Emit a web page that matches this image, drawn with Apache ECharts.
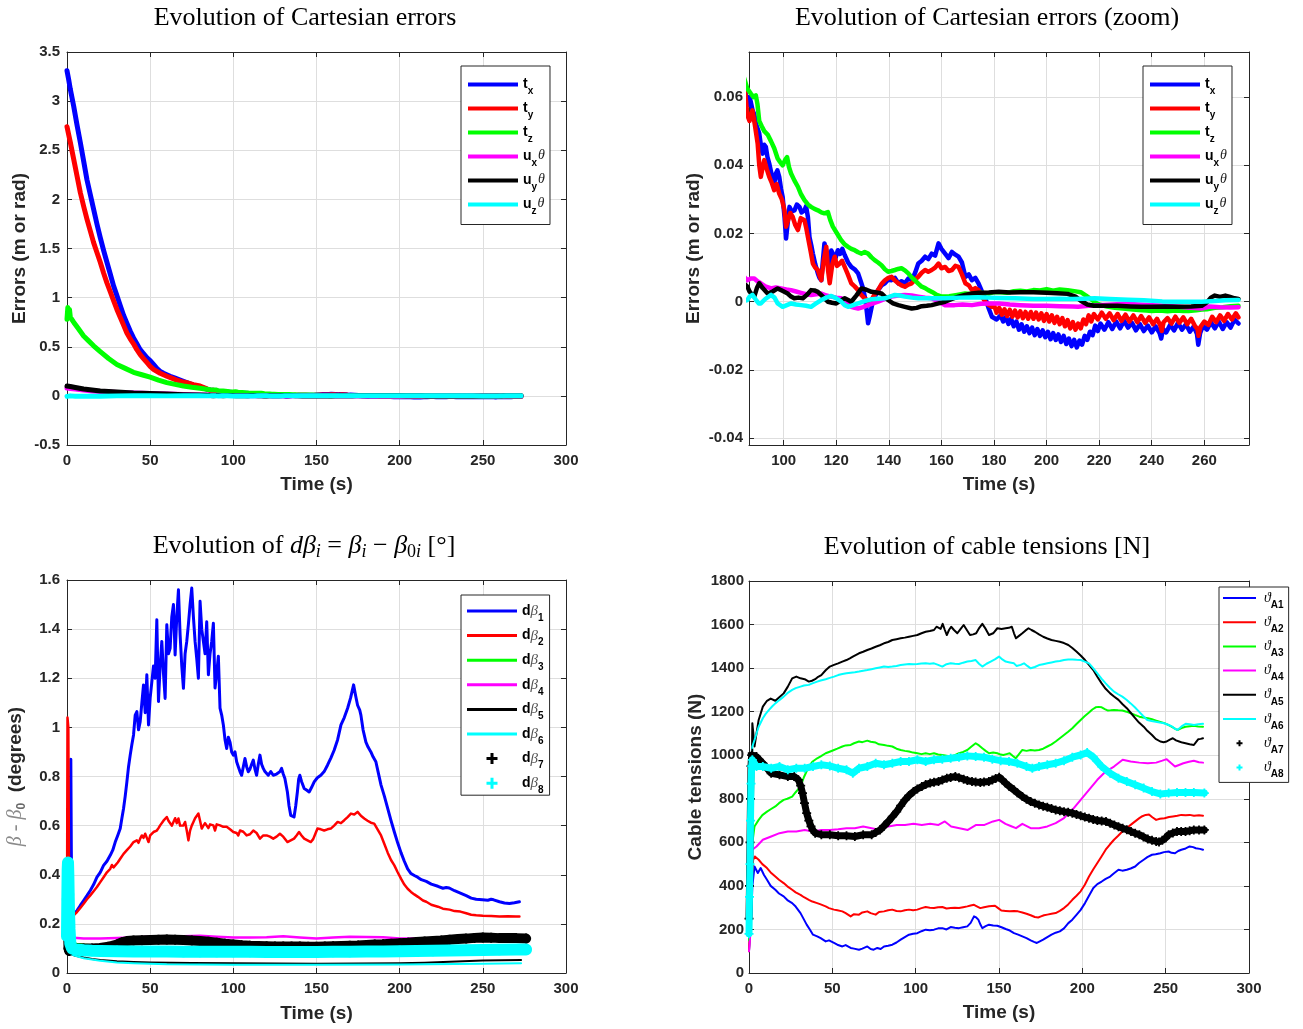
<!DOCTYPE html>
<html>
<head>
<meta charset="utf-8">
<script src="https://cdn.jsdelivr.net/npm/echarts@6/dist/echarts.min.js"></script>
<style>
html, body { margin: 0; padding: 0; background: #fff; }
#chart { width: 1303px; height: 1029px; }
</style>
</head>
<body>
<div id="chart"></div>
<script>
// ---------- data: Cartesian errors (m or rad) vs time (s) ----------
const errTx = [[0,3.31],[1,3.22],[2,3.12],[4,2.95],[6,2.76],[8,2.58],[10,2.39],[12,2.2],[14,2.05],[16,1.9],[18,1.75],[20,1.61],[22,1.48],[24,1.36],[26,1.24],[28,1.12],[30,1.02],[32,0.92],[34,0.82],[36,0.74],[38,0.66],[40,0.59],[42,0.53],[44,0.47],[46,0.43],[48,0.39],[50,0.36],[52,0.32],[54,0.28],[56,0.25],[58,0.23],[60,0.215],[62,0.2],[65,0.18],[68,0.16],[72,0.135],[76,0.11],[80,0.09],[83,0.075],
[86.2,0.0576],[87,0.06],[87.5,0.0585],[88.2,0.056],[88.8,0.055],[89.5,0.052],[90.2,0.0505],[90.7,0.0493],[91.4,0.0455],[92,0.0434],[92.6,0.046],[93.2,0.0454],[93.8,0.0425],[94.5,0.0405],[95.2,0.038],[95.8,0.036],[96.4,0.0346],[97,0.0375],[97.6,0.0385],[98.3,0.0366],[99,0.033],[99.6,0.0307],[100.3,0.025],[100.9,0.0185],[101.5,0.023],[102.2,0.0278],[103,0.0265],[104.1,0.0268],[105,0.0285],[106,0.0278],[106.8,0.0262],[107.9,0.0268],[108.5,0.028],[109.2,0.0249],[109.8,0.019],[110.5,0.0165],[111.1,0.0141],[112,0.011],[113,0.0083],[113.6,0.007],[114.3,0.0063],[114.9,0.012],[115.5,0.0171],[116.2,0.015],[117.5,0.0112],[118.1,0.015],[118.7,0.0141],[119.6,0.0125],[120.6,0.0151],[121.5,0.014],[122.3,0.0155],[123.2,0.0137],[124.5,0.0115],[125.7,0.0102],[127,0.0095],[128.3,0.0083],[129.3,0.006],[130.2,0.0039],[131.2,0],[132.1,-0.0063],[132.8,-0.004],[134,0.0005],[135,0.002],[135.9,0.0034],[137.2,0.0048],[138.5,0.0054],[139.8,0.0065],[141,0.0063],[142.3,0.007],[143.6,0.0054],[144.8,0.006],[146.1,0.0054],[147.4,0.0068],[148.7,0.0063],[150,0.0085],[151.2,0.0112],[152.5,0.012],[153.8,0.0132],[155,0.0125],[156.3,0.0141],[157.6,0.0135],[158.9,0.0171],[160,0.0155],[161.4,0.0141],[162.7,0.0128],[164,0.0146],[165.3,0.0138],[166.5,0.0132],[167.8,0.0115],[169.1,0.0073],[170.4,0.008],[171.6,0.0063],[172.9,0.007],[174.1,0.0054],[175.4,0.003],[176.7,0.001],[178,-0.002],[179.2,-0.0044],[181,-0.0052],
[182.5,-0.004],[183.5,-0.0058],[184.5,-0.0045],[185.5,-0.0065],[186.5,-0.005],[187.5,-0.0072],[188.5,-0.0058],[189.5,-0.0082],[190.5,-0.0066],[191.5,-0.0088],[192.5,-0.0072],[193.5,-0.0092],[194.5,-0.0076],[195.5,-0.0098],[196.5,-0.008],[197.5,-0.01],[198.5,-0.0084],[199.5,-0.0104],[200.5,-0.0088],[201.5,-0.011],[202.5,-0.0092],[203.5,-0.0112],[204.5,-0.0096],[205.5,-0.0118],[206.5,-0.01],[207.5,-0.0124],[208.5,-0.0108],[209.5,-0.013],[210.5,-0.0112],[211.5,-0.0134],[212.5,-0.0114],[213.5,-0.0126],[214.5,-0.01],[215.5,-0.0112],[216.5,-0.0088],[217.5,-0.0098],[218.5,-0.007],[219.5,-0.0086],[220.5,-0.0064],[222,-0.0082],[223.5,-0.006],[225,-0.008],[226.5,-0.0058],[228,-0.0078],[229.5,-0.0056],[231,-0.0076],[232.5,-0.0062],[234,-0.0084],[235.5,-0.0066],[237,-0.0086],[238.5,-0.007],[240,-0.009],[241.5,-0.0072],[243,-0.0092],[243.6,-0.0108],[244.3,-0.008],[245.5,-0.009],[247,-0.0068],[248.5,-0.0084],[250,-0.0062],[251.5,-0.0082],[253,-0.0066],[254.5,-0.0088],[256,-0.0072],[257.2,-0.0094],[257.7,-0.0126],[258.4,-0.0092],[259.5,-0.007],[261,-0.0082],[262.5,-0.006],[264,-0.0078],[265.5,-0.0058],[267,-0.008],[268.5,-0.006],[270,-0.0076],[271.5,-0.0052],[273,-0.0064]];

const errTy = [[0,2.74],[2,2.58],[4,2.41],[6,2.24],[8,2.07],[10,1.93],[12,1.8],[14,1.68],[16,1.56],[18,1.46],[20,1.36],[22,1.25],[24,1.15],[26,1.06],[28,0.97],[30,0.88],[32,0.8],[34,0.72],[36,0.64],[38,0.58],[40,0.53],[42,0.47],[44,0.42],[46,0.38],[48,0.34],[50,0.3],[52,0.27],[54,0.25],[56,0.23],[58,0.215],[60,0.2],[63,0.18],[66,0.16],[69,0.145],[72,0.135],[76,0.115],[80,0.1],[83,0.08],
[86.2,0.0546],[87,0.053],[88.1,0.0561],[89,0.052],[90.1,0.0463],[90.7,0.04],[91.3,0.0366],[92,0.0395],[92.6,0.0415],[93.5,0.039],[94.5,0.0366],[95.4,0.035],[96.4,0.0327],[97.3,0.0345],[98.3,0.0317],[99.3,0.03],[100.3,0.0268],[100.9,0.022],[101.5,0.022],[102.5,0.026],[103.4,0.0249],[104.4,0.0225],[105.4,0.021],[106.5,0.0245],[107.9,0.0239],[108.6,0.0215],[109.2,0.019],[110.2,0.015],[111.1,0.0112],[112,0.01],[113,0.0093],[113.7,0.0075],[114.3,0.0063],[115.2,0.012],[116.2,0.0161],[116.9,0.009],[117.5,0.0054],[118.5,0.011],[119.4,0.0132],[120.3,0.0105],[121.3,0.0112],[122.2,0.012],[123.2,0.0102],[124.4,0.008],[125.7,0.0054],[127,0.0045],[128.3,0.0034],[129.5,0.002],[130.8,0.001],[131.8,0.0005],[132.8,-0.0005],[134.3,0.0018],[135.9,0.0034],[137.2,0.0052],[138.5,0.0063],[139.8,0.007],[141,0.0073],[142.3,0.0062],[143.6,0.0054],[144.8,0.0048],[146.1,0.0044],[147.4,0.005],[148.7,0.0054],[150,0.0065],[151.2,0.0073],[152.5,0.0085],[153.8,0.0093],[155,0.0088],[156.3,0.0093],[157.6,0.01],[158.9,0.0112],[160,0.0098],[161.4,0.0102],[162.7,0.009],[164,0.0093],[165.3,0.0105],[166.5,0.0102],[167.8,0.008],[169.1,0.0054],[170.4,0.0048],[171.6,0.0034],[172.9,0.004],[174.1,0.0034],[175.4,0.0015],[176.7,0],[178,-0.001],[179.2,-0.0015],
[180,-0.001],[181,-0.0032],[182,-0.0018],[183,-0.0038],[184,-0.0022],[185,-0.0042],[186,-0.0024],[187,-0.0044],[188,-0.0026],[189,-0.0046],[190,-0.0028],[191,-0.0048],[192,-0.003],[193,-0.005],[194,-0.003],[195,-0.005],[196,-0.0032],[197,-0.0052],[198,-0.0034],[199,-0.0056],[200,-0.0036],[201,-0.0058],[202,-0.004],[203,-0.0062],[204,-0.0044],[205,-0.0066],[206,-0.0048],[207,-0.0072],[208,-0.0054],[209,-0.0078],[210,-0.006],[211,-0.0082],[212,-0.0064],[213,-0.0078],[214,-0.0052],[215,-0.0066],[216,-0.004],[217,-0.0058],[218,-0.0036],[219.5,-0.0052],[221,-0.0032],[222.5,-0.005],[224,-0.0034],[225.5,-0.0054],[227,-0.0036],[228.5,-0.0056],[230,-0.0038],[231.5,-0.0058],[233,-0.004],[234.5,-0.006],[236,-0.0042],[237.5,-0.0062],[239,-0.0046],[240.5,-0.0066],[242,-0.005],[243.3,-0.007],[243.8,-0.0086],[244.5,-0.006],[246,-0.0048],[247.5,-0.0064],[249,-0.0044],[250.5,-0.0062],[252,-0.0046],[253.5,-0.0066],[255,-0.005],[256.5,-0.0072],[257.4,-0.008],[257.8,-0.01],[258.5,-0.0074],[260,-0.0058],[261.5,-0.0068],[263,-0.0044],[264.5,-0.006],[266,-0.004],[267.5,-0.0056],[269,-0.0036],[270.5,-0.0052],[272,-0.0034],[273,-0.0046]];

const errTz = [[0,0.78],[0.5,0.9],[1,0.82],[1.5,0.88],[2,0.8],[4,0.75],[7,0.68],[10,0.61],[13,0.56],[16,0.51],[20,0.45],[25,0.38],[30,0.32],[35,0.28],[40,0.24],[45,0.215],[50,0.19],[55,0.16],[60,0.135],[65,0.117],[70,0.1],[75,0.088],[80,0.078],[84,0.068],
[86.2,0.0624],[87.5,0.061],[88.5,0.06],[89.4,0.0605],[90,0.058],[90.7,0.053],[91.6,0.0515],[92.6,0.05],[93.9,0.049],[95.2,0.047],[96.4,0.045],[97.7,0.042],[98.6,0.041],[99.6,0.04],[100.5,0.0415],[101.3,0.0424],[102,0.0395],[102.8,0.0376],[104.1,0.0355],[105.4,0.0337],[106.6,0.0315],[107.9,0.0298],[109.2,0.0285],[110.4,0.0278],[111.7,0.0272],[113,0.0268],[114.3,0.0262],[115.5,0.0259],[116.8,0.0263],[117.7,0.024],[118.7,0.022],[120.3,0.02],[121.9,0.018],[123.2,0.0168],[124.5,0.0161],[125.7,0.0155],[127,0.0151],[128.3,0.0145],[129.6,0.0141],[130.8,0.0146],[132.1,0.0141],[133.4,0.013],[134.6,0.0122],[135.9,0.0115],[137.2,0.0107],[138.5,0.0095],[139.7,0.0088],[141,0.009],[142.3,0.0093],[143.5,0.0096],[144.8,0.0098],[146.1,0.0092],[147.4,0.0083],[148.6,0.0072],[149.9,0.0063],[151.2,0.0053],[152.5,0.0044],[153.8,0.004],[155,0.0034],[156.6,0.0028],[158.2,0.002],[160.1,0.0015],[163,0.0016],[166,0.002],[169,0.0024],[172,0.0022],[175,0.0026],[178,0.0024],[180,0.0028],[182.5,0.0028],[185,0.0026],[187.5,0.0031],[190,0.0032],[192.5,0.003],[195,0.0034],[197.5,0.0033],[200,0.0037],[202.5,0.0032],[205,0.0036],[208,0.0034],[210.5,0.0031],[213,0.0028],[215,0.0018],[216.8,0.0008],[218.5,-0.0002],[220,-0.0008],[223,-0.0014],[226,-0.0018],[229,-0.002],[232,-0.0022],[235,-0.0024],[238,-0.0026],[240,-0.0027],[243,-0.0026],[246,-0.0028],[249,-0.0026],[252,-0.0027],[254,-0.0027],[257,-0.0025],[259,-0.0023],[261,-0.0022],[264,-0.0018],[267,-0.0016],[270,-0.0013],[273,-0.0012]];

const errUx = [[0,0.08],[2,0.075],[5,0.07],[10,0.06],[15,0.05],[20,0.045],[30,0.035],[40,0.03],[50,0.025],[60,0.02],[70,0.015],[80,0.01],[84,0.008],
[86.2,0.0063],[87.5,0.0068],[88.8,0.0068],[90,0.006],[91.3,0.0054],[93,0.0045],[95.2,0.0039],[97,0.0042],[99,0.0039],[101,0.0036],[102.8,0.0034],[104.7,0.003],[106.6,0.0026],[108.5,0.0022],[110.4,0.002],[112.3,0.0022],[114.3,0.0024],[116.2,0.0018],[118.1,0.0015],[120,0.0012],[121.9,0.001],[123.8,-0.0005],[125.7,-0.0015],[127,-0.0018],[128.3,-0.002],[130.2,-0.0016],[132.1,-0.001],[134,-0.0005],[135.9,0],[138.5,0.0008],[141,0.0015],[143.6,0.0018],[146.1,0.002],[148.7,0.0018],[151.2,0.0015],[153.8,0.0012],[156.3,0.001],[158.9,0],[161.4,-0.001],[165,-0.001],[168,-0.0008],[171.6,-0.001],[175,-0.0006],[178,-0.0005],[181.8,-0.0005],[186,-0.0008],[190,-0.001],[195,-0.0012],[200,-0.0012],[205,-0.0013],[210,-0.0014],[212,-0.0015],[216,-0.0012],[220,-0.001],[225,-0.0008],[230,-0.0006],[235,-0.0008],[240,-0.001],[245,-0.0012],[250,-0.0015],[255,-0.0018],[259,-0.002],[262,-0.0014],[266,-0.0016],[270,-0.0017],[273,-0.0016]];

const errUy = [[0,0.1],[1,0.11],[2,0.095],[5,0.085],[10,0.07],[15,0.06],[20,0.05],[25,0.045],[30,0.04],[40,0.03],[50,0.025],[60,0.018],[70,0.012],[80,0.008],[84,0.006],
[86.2,0.0044],[87,0.003],[88,0.002],[88.8,0.0015],[89.8,0.004],[90.7,0.0054],[92,0.004],[93.9,0.0024],[95.8,0.003],[97.7,0.0039],[99.5,0.0032],[101.5,0.0024],[102.8,0.0015],[104,0.001],[105.6,0.0012],[107.3,0.001],[108.8,0.002],[110.4,0.0034],[111.7,0.0033],[113,0.0029],[114.9,0.0015],[116.8,0],[118.4,-0.0003],[120,-0.0005],[121.6,0.0003],[123.2,0.001],[124.5,0.0005],[125.7,0],[127.6,0.0018],[129.6,0.0039],[131.5,0.0035],[133.4,0.0029],[135.3,0.0027],[137.2,0.0024],[138.5,0.0015],[139.7,0.0005],[141.6,-0.0005],[143.6,-0.001],[146.1,-0.0015],[148.7,-0.002],[150.6,-0.0018],[152.5,-0.0013],[154.4,-0.0012],[156.3,-0.001],[158.9,-0.0005],[161.4,0],[164,0.0008],[166.5,0.0015],[169,0.002],[171.6,0.0024],[174.1,0.0026],[178,0.0027],[181.8,0.0029],[186,0.0027],[190,0.0028],[195,0.0028],[200,0.0026],[204,0.0025],[208,0.0023],[211,0.0015],[213,0.0003],[215.5,-0.0008],[218,-0.0012],[222,-0.0012],[227,-0.0012],[232,-0.0014],[236,-0.0015],[240,-0.0015],[245,-0.0014],[250,-0.0015],[255,-0.0014],[259,-0.0012],[261,-0.0002],[262.5,0.0012],[264,0.0018],[266,0.0014],[268,0.0018],[269.5,0.0015],[271.5,0.001],[273,0.0008]];

const errUz = [[0,-0.005],[2,0],[5,-0.004],[10,-0.005],[20,-0.003],[30,0],[40,0.002],[50,0.001],[60,0],[70,0.002],[80,0.001],[84,0],
[86.2,0.0005],[87,0.0015],[88.1,0.002],[89.5,0.0005],[90.5,-0.0005],[91.3,-0.0005],[93,0.0008],[95.2,0.002],[96.5,0.0012],[97.7,-0.0005],[99.6,-0.0015],[101.2,-0.001],[102.8,-0.0005],[104.7,-0.0008],[106.6,-0.001],[108.5,-0.0012],[110.4,-0.0015],[112.3,-0.0005],[114.3,0.0005],[116.2,0.0012],[118.1,0.0017],[120,0.001],[121.9,0],[123.2,-0.001],[124.5,-0.0015],[126.4,-0.001],[128.3,-0.0005],[130.8,0.0002],[133.4,0.0007],[135.9,0.0009],[138.5,0.001],[140.4,0.0015],[142.3,0.002],[144.2,0.0018],[146.1,0.0015],[148.7,0.0012],[151.2,0.001],[156,0.001],[161.4,0.001],[167,0.0012],[174.1,0.0013],[178,0.0012],[182.5,0.0011],[188,0.001],[195,0.0008],[200,0.0008],[205,0.0009],[210,0.0008],[214,0.0009],[218.3,0.001],[224,0.0008],[231,0.0006],[237,0.0004],[244,0.0001],[250,0],[255,0],[259,0],[264,0.0002],[268,0.0004],[273,0.0005]];

// ---------- data: dβ_i = β_i − β_0i (degrees) vs time (s) ----------
const dBeta1 = [[0,0.2],[1.6,0.24],[2,0.6],[2.3,0.87],[2.6,0.5],[3,0.23],[4,0.235],[6,0.254],[8,0.275],[10,0.295],[12,0.315],[14,0.336],[16,0.36],[18,0.39],[20,0.41],[22,0.438],[24,0.455],[26,0.479],[27.5,0.5],[29,0.533],[30.5,0.56],[32,0.588],[33,0.63],[34,0.67],[35,0.72],[36,0.778],[37,0.84],[38,0.887],[39,0.93],[40,0.969],[41,1.05],[42,1.064],[43,0.99],[44,1.023],[45,1.1],[46,1.173],[47,1.06],[48,1.214],[49,1.01],[50,1.12],[51,1.118],[52,1.25],[53,1.2],[54,1.438],[55,1.105],[56,1.25],[57,1.35],[58,1.22],[59,1.118],[60,1.418],[61,1.3],[62,1.322],[63,1.45],[64,1.5],[65,1.295],[66,1.45],[67,1.56],[68,1.377],[69,1.25],[70,1.159],[71,1.3],[72,1.35],[73,1.42],[74,1.5],[75,1.567],[76,1.45],[77,1.35],[78,1.28],[79,1.2],[80,1.513],[81,1.4],[82,1.35],[83,1.3],[84,1.43],[85,1.214],[86,1.3],[87,1.35],[88,1.424],[89,1.16],[90,1.22],[91,1.29],[92,1.078],[93,1.05],[94,1.01],[95,0.95],[96,0.914],[97,0.96],[98,0.94],[99,0.9],[100,0.887],[101,0.9],[102,0.86],[103,0.84],[104,0.82],[105,0.805],[106,0.84],[107,0.873],[108,0.84],[109,0.819],[110,0.83],[111,0.85],[112,0.867],[113,0.83],[114,0.805],[115,0.85],[116,0.887],[117,0.85],[118,0.833],[119,0.82],[121,0.805],[122.5,0.82],[124,0.805],[126,0.81],[128,0.82],[129,0.833],[130,0.81],[131,0.792],[132.5,0.737],[133.5,0.68],[134.5,0.642],[135.5,0.635],[136.5,0.635],[137.5,0.68],[138.5,0.737],[139.3,0.79],[140,0.805],[141,0.78],[142.6,0.751],[144,0.745],[145.6,0.737],[147,0.755],[148.6,0.778],[150.5,0.795],[152.6,0.805],[154.6,0.82],[156.6,0.846],[158.6,0.875],[160.6,0.907],[162.7,0.95],[164.7,1.01],[166.7,1.04],[168.7,1.078],[170.5,1.12],[172.3,1.173],[173.5,1.13],[174.7,1.09],[176,1.07],[176.7,1.05],[178,0.99],[179.7,0.94],[181,0.92],[182.7,0.9],[184,0.88],[185.7,0.86],[187,0.82],[188.8,0.765],[190.8,0.72],[192.8,0.67],[194.8,0.62],[196.8,0.574],[198.8,0.53],[200.8,0.49],[202.8,0.455],[204.8,0.424],[206.8,0.405],[208.8,0.397],[210.8,0.39],[213,0.38],[216,0.373],[219,0.362],[223,0.353],[226,0.345],[228,0.348],[229.8,0.346],[233,0.335],[236.5,0.325],[240,0.315],[243,0.305],[246,0.3],[249.8,0.298],[253,0.296],[255,0.3],[256.5,0.298],[260,0.29],[263,0.285],[266,0.283],[269,0.286],[272,0.29]];

const dBeta2 = [[0,0.2],[0.3,1.04],[0.8,1.0],[1.2,0.4],[1.6,0.22],[2,0.22],[4,0.235],[6,0.248],[8,0.265],[10,0.282],[12,0.3],[14,0.316],[16,0.333],[18,0.35],[20,0.37],[22,0.39],[24,0.41],[26,0.424],[27,0.44],[28,0.43],[29,0.438],[30.5,0.45],[32,0.465],[34,0.485],[36,0.5],[38,0.515],[40,0.533],[42,0.54],[43,0.53],[44,0.547],[45,0.56],[46,0.55],[47,0.567],[48,0.55],[49,0.533],[50,0.56],[52,0.574],[54,0.58],[55,0.59],[56,0.601],[58,0.62],[60,0.635],[61,0.62],[62,0.625],[63,0.6],[64,0.615],[65,0.63],[66,0.61],[67,0.629],[68,0.6],[70,0.601],[71,0.615],[72,0.58],[73,0.54],[74,0.58],[75,0.6],[76,0.615],[77,0.63],[78,0.625],[79,0.649],[80,0.62],[81,0.588],[82,0.6],[83,0.61],[84,0.608],[85,0.59],[86,0.605],[88,0.601],[89,0.58],[90,0.605],[92,0.601],[94,0.595],[96,0.595],[98,0.585],[100,0.574],[102,0.57],[103,0.56],[104,0.58],[106,0.575],[108,0.56],[110,0.565],[112,0.58],[114,0.57],[116,0.547],[118,0.56],[120,0.56],[122,0.555],[124,0.547],[126,0.555],[128,0.567],[130,0.555],[132.5,0.533],[134.5,0.54],[136.5,0.547],[138,0.56],[139.5,0.574],[141,0.56],[142.6,0.547],[144.6,0.54],[146.6,0.533],[148,0.545],[149.5,0.57],[150.6,0.588],[152.6,0.585],[154.6,0.58],[156.6,0.585],[158.6,0.588],[160.6,0.6],[162.7,0.615],[164.7,0.61],[166.7,0.622],[168.7,0.635],[170.7,0.649],[172.7,0.645],[174.7,0.656],[176.7,0.64],[178.7,0.629],[180.7,0.62],[182.7,0.612],[184.7,0.608],[186.7,0.585],[188.8,0.56],[190.8,0.525],[192.8,0.49],[194.8,0.46],[196.8,0.438],[198.8,0.41],[200.8,0.384],[202.8,0.36],[204.8,0.343],[206.8,0.33],[208.8,0.32],[211,0.31],[214,0.295],[216,0.29],[219,0.278],[223,0.27],[226,0.262],[230,0.258],[233,0.252],[236.5,0.25],[240,0.243],[243,0.237],[246,0.235],[250,0.233],[255,0.232],[260,0.23],[265,0.231],[270,0.23],[272,0.23]];

const dBeta3 = [[0,0.14],[1,0.13],[2,0.125],[4,0.12],[6,0.118],[10,0.115],[20,0.11],[40,0.105],[60,0.1],[100,0.098],[150,0.095],[200,0.09],[230,0.085],[250,0.082],[273,0.08]];
const dBeta4 = [[0,0.18],[1,0.16],[2,0.145],[3,0.14],[10,0.14],[20,0.14],[30,0.142],[40,0.145],[50,0.148],[60,0.15],[70,0.15],[80,0.152],[90,0.148],[100,0.145],[110,0.145],[120,0.146],[130,0.15],[140,0.145],[150,0.14],[160,0.145],[170,0.148],[180,0.147],[190,0.146],[200,0.14],[220,0.14],[240,0.14],[273,0.14]];
const dBeta5 = [[0,0.24],[0.5,0.2],[1,0.14],[2,0.09],[3,0.075],[5,0.07],[10,0.063],[15,0.057],[20,0.053],[30,0.048],[40,0.045],[50,0.043],[75,0.041],[100,0.04],[150,0.038],[200,0.04],[215,0.042],[230,0.046],[250,0.051],[273,0.053]];
const dBeta6 = [[0,0.2],[1,0.12],[2,0.09],[3,0.075],[5,0.07],[10,0.06],[20,0.05],[30,0.043],[40,0.04],[60,0.036],[100,0.034],[150,0.034],[200,0.035],[250,0.038],[273,0.04]];
const dBeta7 = [[0,0.22],[0.3,0.24],[0.6,0.2],[0.9,0.1],[1.3,0.09],[2,0.1],[5,0.1],[10,0.1],[15,0.1],[20,0.102],[25,0.107],[30,0.116],[33,0.125],[36,0.13],[40,0.132],[45,0.133],[50,0.134],[55,0.135],[60,0.136],[65,0.135],[70,0.134],[75,0.132],[80,0.13],[85,0.127],[90,0.123],[95,0.119],[100,0.116],[105,0.113],[110,0.111],[115,0.11],[120,0.109],[125,0.108],[130,0.108],[135,0.108],[140,0.108],[145,0.107],[150,0.107],[155,0.108],[160,0.109],[165,0.11],[170,0.111],[175,0.112],[180,0.114],[185,0.116],[190,0.117],[195,0.119],[200,0.121],[205,0.123],[210,0.126],[215,0.128],[220,0.13],[225,0.132],[230,0.135],[235,0.138],[240,0.14],[245,0.143],[250,0.145],[255,0.144],[260,0.142],[265,0.142],[270,0.142],[276,0.14]];
const dBeta8 = [[0,0.15],[0.2,0.3],[0.4,0.42],[0.6,0.45],[0.8,0.4],[1,0.32],[1.2,0.25],[1.5,0.18],[2,0.12],[3,0.1],[5,0.096],[10,0.093],[15,0.091],[20,0.09],[30,0.089],[40,0.088],[50,0.088],[60,0.088],[70,0.087],[80,0.087],[90,0.087],[100,0.087],[110,0.087],[120,0.086],[130,0.086],[140,0.086],[150,0.086],[160,0.087],[170,0.087],[180,0.088],[190,0.088],[200,0.089],[210,0.09],[220,0.091],[230,0.092],[240,0.093],[250,0.094],[260,0.095],[270,0.096],[276,0.096]];

// ---------- data: cable tensions (N) vs time (s) ----------
const tensA1 = [[0,100],[0.75,107],[1.5,280],[2,398],[3.3,489],[5.3,459],[7,482],[9,450],[10.8,428],[13,400],[15.8,382],[18,365],[20.8,352],[23,335],[25.9,321],[28,305],[30.9,275],[33,245],[34.6,222],[36.5,200],[38.4,176],[40.9,168],[43,160],[46,145],[48,150],[51,138],[53,130],[56,122],[58,128],[61,115],[63,112],[66,107],[68,112],[71,122],[73,110],[74.8,107],[77,115],[79,110],[81,122],[83.5,125],[86,130],[88.5,140],[91,153],[93.5,165],[96,176],[98.5,180],[101,183],[103.5,192],[106,199],[108.5,196],[111,199],[113.5,205],[116,206],[118.5,200],[121,211],[123.5,208],[126,206],[128.5,210],[131,214],[133,230],[135,260],[136.3,255],[137.6,245],[139,220],[140,206],[142,215],[144,222],[146.5,218],[149,217],[151.5,210],[154,202],[156.5,195],[159,183],[161.5,176],[164,168],[166.5,160],[169,150],[171,143],[172.7,138],[174.5,145],[176.5,153],[179,165],[181.5,176],[184,185],[186.5,191],[189,205],[191.6,229],[194,245],[196.6,268],[199,290],[201.6,321],[204,355],[206.6,390],[209,408],[211.6,420],[214,432],[216.7,443],[219,458],[221.7,474],[224,470],[226.7,474],[229,480],[231.7,489],[234,505],[236.8,520],[239,532],[241.8,543],[244,545],[246.8,550],[249,555],[251.8,558],[253.5,552],[255.6,550],[257.5,560],[259.4,566],[262,572],[264.4,581],[266.5,578],[268.1,573],[270.5,570],[272.4,566]];
const tensA2 = [[0,100],[0.8,250],[1.5,420],[2.5,520],[3.5,535],[5.8,520],[8,500],[10.8,482],[13,462],[15.8,443],[18,428],[20.8,413],[23,398],[25.9,382],[28,370],[30.9,359],[33,348],[35.9,336],[38,328],[40.9,321],[43,315],[46,306],[48,298],[51,291],[53,288],[56,283],[58,275],[61,260],[63,270],[66,268],[68,278],[71,283],[73,275],[76,268],[78,280],[81,283],[83.5,288],[86,291],[88.5,285],[91,283],[93.5,288],[96,291],[98.5,288],[101,291],[103.5,298],[106,303],[108.5,300],[111,298],[113.5,302],[116,303],[118.5,296],[121,298],[123.5,300],[126,298],[128.5,302],[131,306],[133,310],[135,313],[137,305],[138.8,298],[141,302],[144,306],[147.6,309],[149.5,298],[151.4,287],[154,285],[156.4,283],[159,285],[161.4,283],[164,278],[166.5,272],[169,265],[171.5,257],[173.5,255],[175.2,260],[177,265],[179,268],[181.5,272],[184,275],[186.5,285],[189,298],[191.5,315],[194,336],[196.5,355],[199,375],[201.5,405],[204,443],[206.5,475],[209,505],[211.5,535],[214,566],[216.5,590],[219,612],[221.5,630],[224,650],[226.5,665],[229,680],[231.5,695],[234.2,711],[236,720],[238,726],[240,728],[242,715],[244.3,703],[246.5,708],[249.3,711],[252,716],[254.3,719],[257,722],[259.4,726],[262,724],[264.4,726],[267,722],[270,724],[272.4,722]];
const tensA3 = [[0,150],[1,400],[2,596],[3.3,673],[5.8,703],[8,725],[10.8,741],[13,752],[15.8,765],[18,780],[20.8,795],[23,800],[25.9,810],[28,830],[30.9,856],[33,900],[35.9,948],[38,970],[40.9,986],[43,995],[46,1009],[48,1015],[51,1024],[53,1030],[56,1040],[58,1045],[61,1047],[63,1055],[66,1063],[68,1060],[71,1067],[73,1062],[76,1058],[78,1050],[81,1047],[83.5,1043],[86,1040],[88.5,1030],[91,1024],[93.5,1020],[96,1017],[98.5,1012],[101,1009],[103.5,1005],[106,1009],[108.5,1005],[111,1009],[113.5,1003],[116,1001],[118.5,998],[121,994],[123.5,1000],[126,1009],[128.5,1015],[131,1024],[133.5,1040],[136,1055],[138,1045],[140,1032],[142,1020],[144,1009],[146.5,1012],[149,1009],[151,1003],[152.6,1001],[154.5,1005],[156.4,1009],[158.5,995],[160,986],[162,1005],[164,1024],[166.5,1020],[169,1024],[171.5,1022],[174,1024],[176.5,1030],[179,1040],[181.5,1050],[184,1063],[186.5,1078],[189,1093],[191.5,1108],[194,1124],[196.5,1143],[199,1162],[201.5,1180],[204,1196],[206,1210],[208,1220],[209.8,1222],[211.6,1220],[213.5,1212],[215.4,1205],[217,1206],[219,1208],[221.5,1206],[224,1205],[226.5,1200],[229,1193],[231.5,1185],[234.2,1177],[236.5,1173],[239.3,1170],[241.8,1165],[244.3,1159],[246.8,1153],[249.3,1147],[251.8,1138],[254.3,1128],[256,1120],[257.3,1116],[259.5,1125],[261.9,1131],[264.5,1133],[266.9,1135],[269.5,1132],[272.4,1131]];
const tensA4 = [[0,100],[1,200],[2,566],[4.5,581],[8.3,612],[13.3,627],[18.3,642],[23.3,650],[28.4,650],[33.4,657],[38.4,650],[43.4,657],[48.5,657],[53.5,660],[58.5,665],[63.5,665],[68.5,673],[73.6,665],[78.6,657],[83.6,673],[88.6,680],[93.6,680],[98.7,685],[103.7,680],[108.7,685],[113.7,680],[117.5,696],[121.3,673],[126.3,665],[131.3,657],[136.3,680],[141.3,680],[146.4,696],[150.1,703],[153.9,685],[157,675],[160.2,665],[164,685],[169,665],[174,665],[179,673],[184,688],[189,711],[194,749],[199,795],[204,841],[209,887],[214,925],[219,948],[224.2,979],[229,971],[234.2,966],[239.3,963],[244.3,966],[248,975],[250.6,982],[253,965],[255.6,948],[258,955],[260.6,963],[264,970],[266.9,975],[270,968],[272.4,966]];
const tensA5 = [[0,200],[1,600],[1.6,900],[2,1147],[2.6,1100],[3.3,1040],[4.5,1100],[5.8,1162],[8.3,1223],[10.8,1250],[13,1260],[15.8,1250],[18,1265],[20.8,1284],[23.3,1315],[25.9,1353],[28.4,1361],[30.9,1353],[33.4,1349],[35.9,1338],[37.8,1342],[39.7,1349],[41.5,1360],[43.4,1368],[46,1390],[48.5,1407],[51,1415],[53.5,1422],[56,1430],[58.5,1437],[60.5,1445],[62.3,1453],[64,1460],[66,1468],[68.5,1475],[71,1483],[73.5,1490],[76,1498],[78.5,1505],[81,1514],[83.5,1520],[86,1529],[88.5,1533],[91,1537],[93.5,1540],[96,1544],[98.5,1548],[101,1552],[103.5,1560],[106,1567],[108.5,1570],[111,1575],[112.5,1590],[113.7,1598],[115,1580],[116.2,1603],[117.5,1575],[118.7,1552],[120,1575],[121.3,1590],[123,1575],[125,1560],[127,1580],[128.8,1598],[130.7,1575],[132.6,1552],[134.5,1555],[136.3,1560],[138.2,1585],[140,1603],[142,1580],[144,1552],[146.5,1560],[149,1583],[151.5,1580],[154,1583],[155.9,1585],[157.7,1590],[159,1560],[160.2,1537],[162,1548],[164,1560],[165.8,1572],[167.7,1583],[169.5,1575],[171.5,1567],[174,1555],[176.5,1544],[179,1536],[181.5,1529],[184,1525],[186.5,1521],[189,1515],[191.6,1506],[194,1492],[196.6,1475],[199,1458],[201.6,1437],[204,1415],[206.6,1391],[209,1360],[211.6,1330],[214,1305],[216.7,1284],[219,1270],[221.7,1254],[224,1235],[226.7,1216],[229,1195],[231.7,1170],[234,1150],[236.8,1131],[239,1112],[241.8,1093],[244,1075],[246.8,1063],[248.8,1060],[250.6,1063],[252.5,1072],[254.3,1078],[256.2,1068],[258.1,1063],[260,1058],[261.9,1055],[264.4,1050],[266.9,1047],[268.2,1060],[269.5,1073],[271,1075],[272.4,1078]];
const tensA6 = [[0,200],[1,700],[2,1040],[3.3,1070],[4.5,1100],[5.8,1131],[8.3,1170],[10,1190],[12,1208],[14,1225],[15.8,1238],[18,1252],[20.8,1269],[23,1285],[25.9,1300],[28,1308],[30.9,1315],[33,1320],[35.9,1323],[38,1330],[40.9,1338],[43,1343],[46,1349],[48.5,1355],[51,1361],[53.5,1368],[56,1373],[58.5,1376],[61,1379],[63.5,1381],[66,1384],[68.5,1388],[71,1391],[73.5,1395],[76,1399],[78.5,1403],[81,1407],[83.5,1405],[86,1407],[88.5,1410],[91,1414],[93.5,1417],[96,1419],[98.5,1418],[101,1419],[103.5,1421],[106,1422],[108.5,1420],[111,1422],[113.5,1415],[116,1407],[118.5,1418],[121,1422],[123.5,1420],[126,1419],[128.5,1425],[131,1430],[133.5,1433],[136,1437],[138,1420],[140,1407],[142.5,1420],[145,1430],[147.5,1440],[150,1453],[152,1440],[154,1430],[156.5,1426],[159,1422],[160.5,1410],[161.4,1407],[163,1415],[165,1422],[167,1410],[169,1399],[171.5,1405],[174,1414],[176.5,1418],[179,1422],[181.5,1426],[184,1430],[186.5,1433],[189,1437],[191.5,1439],[194,1440],[196.5,1438],[199,1437],[201.5,1430],[204,1422],[206.5,1400],[209,1376],[211.5,1352],[214,1330],[216.5,1310],[219,1292],[221.5,1280],[224,1269],[226.5,1255],[229,1238],[231.5,1220],[234,1200],[236.5,1180],[239,1162],[241.5,1157],[244,1154],[246.5,1150],[249,1147],[251.5,1140],[254,1131],[255.5,1122],[257,1116],[258.5,1125],[260,1135],[262,1144],[264.5,1142],[267,1139],[269.5,1142],[272.4,1144]];
const tensA7 = [[0,250],[0.3,400],[0.6,600],[0.9,800],[1.2,950],[1.6,1000],[2,1009],[4.5,994],[8.3,963],[13.3,917],[18.3,910],[23.3,902],[27.1,902],[29.6,887],[31,860],[32.1,826],[33.3,780],[34.6,734],[35.9,700],[37.2,673],[38.4,655],[39.7,642],[43.4,635],[48.5,635],[53.5,630],[58.5,630],[63.5,627],[68.5,635],[73.6,635],[76,645],[78.6,657],[81,675],[83.6,696],[86,718],[88.6,741],[91,768],[93.6,795],[96,815],[98.7,833],[101,845],[103.7,856],[106,865],[108.7,872],[111,876],[113.7,879],[116,886],[118.7,894],[121,898],[123.8,902],[126,897],[128.8,890],[131,884],[133.8,879],[136,877],[138.8,875],[141,877],[143.9,879],[146,886],[148,893],[150.1,899],[152,886],[153.9,872],[156,858],[158.9,841],[161,828],[164,810],[166.5,798],[169,787],[171.5,780],[174,772],[176.5,766],[179,761],[181.5,755],[184,749],[186.5,745],[189,741],[191.5,738],[194,734],[196.5,728],[199,722],[201.5,716],[204,711],[206.5,705],[209,700],[211.6,698],[214.2,696],[216.7,688],[219.2,680],[221.7,672],[224.2,665],[226.7,658],[229.2,650],[231.7,642],[234.2,635],[236.7,625],[239.3,615],[241.8,609],[244.3,604],[246,602],[248,609],[250,620],[251.8,635],[254.3,643],[256.8,650],[259.3,650],[261.9,650],[264.4,653],[266.9,657],[270,657],[273.2,657]];
const tensA8 = [[0,180],[0.3,350],[0.6,500],[0.9,700],[1.2,870],[1.6,950],[2,979],[4.5,948],[8.3,948],[13.3,940],[18.3,948],[23.3,933],[28.4,940],[33.4,940],[38.4,948],[43.4,956],[48.5,951],[53.5,940],[58.5,933],[62.3,917],[66,940],[71,948],[76,963],[81,956],[86,963],[91,971],[96,971],[101,979],[106,971],[111,979],[116,982],[121,986],[126,991],[131,997],[136,994],[141,991],[146,982],[151,975],[156,971],[161,963],[166.5,948],[170,940],[174,948],[179,956],[184,963],[189,975],[194,991],[199,1001],[202.9,1012],[206.6,991],[211.6,948],[216.7,917],[221.7,894],[226.7,879],[231.7,864],[236.8,849],[241.8,833],[246.8,822],[251.8,826],[256.8,829],[261.9,829],[266.9,829],[273.2,826]];

// ---------- tick values of the zoomed panel ----------
const zoomTimeTicks = [100, 120, 140, 160, 180, 200, 220, 240, 260];
const zoomErrTicks = [-0.04, -0.02, 0, 0.02, 0.04, 0.06];

// ---------- legend entries ----------
const cartNames = ['tx', 'ty', 'tz', 'uxθ', 'uyθ', 'uzθ'];
const cartLabels = ['{m|t}{s|x}', '{m|t}{s|y}', '{m|t}{s|z}', '{m|u}{s|x}{th|θ}', '{m|u}{s|y}{th|θ}', '{m|u}{s|z}{th|θ}'];
const betaNames = ['dβ1', 'dβ2', 'dβ3', 'dβ4', 'dβ5', 'dβ6', 'dβ7', 'dβ8'];
const tensNames = ['ϑA1', 'ϑA2', 'ϑA3', 'ϑA4', 'ϑA5', 'ϑA6', 'ϑA7', 'ϑA8'];

// ---------- styling ----------
const SANS = "'Liberation Sans', Arial, Helvetica, sans-serif";
const SERIF = "'Liberation Serif', 'DejaVu Serif', serif";
const AXIS = '#262626';
const GRID = '#dedede';
const BLUE = '#0000ff', RED = '#ff0000', GREEN = '#00ff00', MAGENTA = '#ff00ff', BLACK = '#000000', CYAN = '#00ffff';

const LINE_ICON_4 = 'path://M0,0M50,16M0,6h50v4h-50z';
const LINE_ICON_3 = 'path://M0,0M50,16M0,6.5h50v3h-50z';
const LINE_ICON_2 = 'path://M0,0M33,16M0,7h33v2h-33z';
const PLUS_ICON_BIG = 'path://M0,0M50,16M19.5,6.5h11v3h-11zM23.5,2.5h3v11h-3z';
const PLUS_ICON_SMALL = 'path://M0,0M33,16M13.5,7h6v2h-6zM15.5,5h2v6h-2z';
const PLUS_MARK = 'path://M0,4h10v2h-10zM4,0h2v10h-2z';

const tickLabel = { color: AXIS, fontFamily: SANS, fontWeight: 'bold', fontSize: 15 };
const axisTitle = { color: AXIS, fontFamily: SANS, fontWeight: 'bold', fontSize: 19 };

function valueAxis(dim, g, r, primary) {
  const ax = {
    type: 'value', gridIndex: g, min: r.min, max: r.max,
    position: dim === 'x' ? (primary ? 'bottom' : 'top') : (primary ? 'left' : 'right'),
    axisLine: { show: true, onZero: false, lineStyle: { color: AXIS, width: 1 } },
    axisTick: { show: true, inside: true, length: 5, lineStyle: { color: AXIS, width: 1 } },
    axisLabel: Object.assign({ show: primary, margin: r.margin }, tickLabel),
    splitLine: { show: primary, lineStyle: { color: GRID, width: 1 } },
    silent: true,
    nameMoveOverlap: false
  };
  if (r.ticks) {
    ax.axisTick.customValues = r.ticks;
    ax.axisLabel.customValues = r.ticks;
    ax.splitNumber = r.split;
  } else {
    ax.interval = r.interval;
  }
  if (r.fmt) ax.axisLabel.formatter = r.fmt;
  if (primary && r.name) {
    ax.name = r.name;
    ax.nameLocation = 'middle';
    ax.nameGap = r.gap;
    ax.nameTextStyle = r.nameStyle || axisTitle;
    if (dim === 'y') ax.nameRotate = 90;
  }
  return ax;
}

const plain = v => String(v);
const zoomFmt = v => (Math.abs(v) < 1e-9 ? '0' : v.toFixed(2));

const xRanges = [
  { min: 0, max: 300, interval: 50, margin: 8, name: 'Time (s)', gap: 30, fmt: plain },
  { min: 86.8, max: 277, ticks: zoomTimeTicks, split: 10, margin: 8, name: 'Time (s)', gap: 30, fmt: plain },
  { min: 0, max: 300, interval: 50, margin: 8, name: 'Time (s)', gap: 31, fmt: plain },
  { min: 0, max: 300, interval: 50, margin: 8, name: 'Time (s)', gap: 30, fmt: plain }
];
const yRanges = [
  { min: -0.5, max: 3.5, interval: 0.5, margin: 7, name: 'Errors (m or rad)', gap: 38 },
  { min: -0.042, max: 0.0732, ticks: zoomErrTicks, split: 5, margin: 6, name: 'Errors (m or rad)', gap: 46, fmt: zoomFmt },
  { min: 0, max: 1.6, interval: 0.2, margin: 7, gap: 39,
    name: '{g|β - β}{gs|0}{n|  (degrees)}',
    nameStyle: { rich: {
      g: { fontFamily: SERIF, fontStyle: 'italic', fontSize: 20, color: '#8a8a8a', lineHeight: 24, verticalAlign: 'middle' },
      gs: { fontFamily: SANS, fontWeight: 'bold', fontSize: 12, color: '#6a6a6a', lineHeight: 10, verticalAlign: 'bottom' },
      n: { fontFamily: SANS, fontWeight: 'bold', fontSize: 19, color: AXIS, lineHeight: 24, verticalAlign: 'middle' }
    } } },
  { min: 0, max: 1800, interval: 200, margin: 5, name: 'Cable tensions (N)', gap: 44, fmt: plain }
];

const xAxes = [], yAxes = [];
for (let g = 0; g < 4; g++) {
  xAxes.push(valueAxis('x', g, xRanges[g], true), valueAxis('x', g, xRanges[g], false));
  yAxes.push(valueAxis('y', g, yRanges[g], true), valueAxis('y', g, yRanges[g], false));
}

function lineSeries(name, g, data, color, width, z) {
  return {
    type: 'line', name, xAxisIndex: 2 * g, yAxisIndex: 2 * g, data,
    symbol: 'none', showSymbol: false, clip: true, silent: true,
    legendHoverLink: false, animation: false, z: z || 2,
    lineStyle: { color, width, join: 'round', cap: 'round' },
    itemStyle: { color }, emphasis: { disabled: true }
  };
}
function plusSeries(name, g, data, color, width, size, z) {
  const s = lineSeries(name, g, data, color, width, z);
  s.symbol = PLUS_MARK;
  s.showSymbol = true;
  s.symbolSize = size;
  return s;
}

const cartData = [errTx, errTy, errTz, errUx, errUy, errUz];
const cartColors = [BLUE, RED, GREEN, MAGENTA, BLACK, CYAN];
const series = [];
cartNames.forEach((n, i) => series.push(lineSeries(n, 0, cartData[i], cartColors[i], 5)));
cartNames.forEach((n, i) => series.push(lineSeries(n, 1, cartData[i], cartColors[i], 4.5)));

series.push(lineSeries(betaNames[0], 2, dBeta1, BLUE, 3));
series.push(lineSeries(betaNames[1], 2, dBeta2, RED, 2.5));
series.push(lineSeries(betaNames[2], 2, dBeta3, GREEN, 2.5));
series.push(lineSeries(betaNames[3], 2, dBeta4, MAGENTA, 2.5));
series.push(lineSeries(betaNames[4], 2, dBeta5, BLACK, 2));
series.push(lineSeries(betaNames[5], 2, dBeta6, CYAN, 2));
series.push(plusSeries(betaNames[6], 2, dBeta7, BLACK, 10, 10, 3));
series.push(plusSeries(betaNames[7], 2, dBeta8, CYAN, 12, 11, 4));

const tensData = [tensA1, tensA2, tensA3, tensA4, tensA5, tensA6];
tensData.forEach((d, i) => series.push(lineSeries(tensNames[i], 3, d, cartColors[i], 2)));
series.push(plusSeries(tensNames[6], 3, tensA7, BLACK, 7, 9, 3));
series.push(plusSeries(tensNames[7], 3, tensA8, CYAN, 7, 9, 4));

// legend text styles
const cartRich = {
  m: { fontFamily: SANS, fontWeight: 'bold', fontSize: 14, color: '#000', lineHeight: 24, verticalAlign: 'middle' },
  s: { fontFamily: SANS, fontWeight: 'bold', fontSize: 10, color: '#000', lineHeight: 8, verticalAlign: 'bottom' },
  th: { fontFamily: SERIF, fontStyle: 'italic', fontSize: 14, color: '#222', lineHeight: 24, verticalAlign: 'middle', padding: [0, 0, 2, 1] }
};
const betaRich = {
  d: { fontFamily: SANS, fontWeight: 'bold', fontSize: 14, color: '#000', lineHeight: 24, verticalAlign: 'middle' },
  b: { fontFamily: SERIF, fontStyle: 'italic', fontSize: 15, color: '#555', lineHeight: 24, verticalAlign: 'middle' },
  s: { fontFamily: SANS, fontWeight: 'bold', fontSize: 10, color: '#000', lineHeight: 8, verticalAlign: 'bottom' }
};
const tensRich = {
  v: { fontFamily: SERIF, fontStyle: 'italic', fontSize: 14, color: '#000', lineHeight: 24, verticalAlign: 'middle', padding: [0, 0, 0, 3] },
  s: { fontFamily: SANS, fontWeight: 'bold', fontSize: 10, color: '#000', lineHeight: 8, verticalAlign: 'bottom' }
};

const legendBase = {
  orient: 'vertical', selectedMode: false, backgroundColor: '#fff',
  borderColor: AXIS, borderWidth: 1, borderRadius: 0,
  itemStyle: { borderWidth: 0 }, inactiveColor: '#ccc'
};
const legends = [
  Object.assign({}, legendBase, {
    left: 461, top: 66, itemWidth: 50, itemHeight: 16, itemGap: 4, padding: [10.5, 5, 8, 7],
    data: cartNames.map(n => ({ name: n, icon: LINE_ICON_4 })),
    formatter: n => cartLabels[cartNames.indexOf(n)],
    textStyle: { rich: cartRich }
  }),
  Object.assign({}, legendBase, {
    left: 1143, top: 66, itemWidth: 50, itemHeight: 16, itemGap: 4, padding: [10.5, 5, 8, 7],
    data: cartNames.map(n => ({ name: n, icon: LINE_ICON_4 })),
    formatter: n => cartLabels[cartNames.indexOf(n)],
    textStyle: { rich: cartRich }
  }),
  Object.assign({}, legendBase, {
    left: 461, top: 595, itemWidth: 50, itemHeight: 16, itemGap: 4.6, padding: [8, 6, 0, 6],
    data: betaNames.map((n, i) => ({ name: n, icon: i < 6 ? LINE_ICON_3 : PLUS_ICON_BIG })),
    formatter: n => '{d|d}{b|β}{s|' + n.slice(2) + '}',
    textStyle: { rich: betaRich }
  }),
  Object.assign({}, legendBase, {
    left: 1219, top: 587, itemWidth: 33, itemHeight: 16, itemGap: 4.2, padding: [3, 5, 3, 4],
    data: tensNames.map((n, i) => ({ name: n, icon: i < 6 ? LINE_ICON_2 : PLUS_ICON_SMALL })),
    formatter: n => '{v|ϑ}{s|' + n.slice(1) + '}',
    textStyle: { rich: tensRich }
  })
];

const titleStyle = { fontFamily: SERIF, fontWeight: 'normal', fontSize: 26, color: '#000' };
const titles = [
  { text: 'Evolution of Cartesian errors', left: 305, top: 5, textAlign: 'center', padding: 0, textStyle: titleStyle },
  { text: 'Evolution of Cartesian errors (zoom)', left: 987, top: 5, textAlign: 'center', padding: 0, textStyle: titleStyle },
  { text: '{r|Evolution of }{i|dβ}{si|i}{r| = }{i|β}{si|i}{r| − }{i|β}{s0|0}{si|i}{r| [°]}',
    left: 304, top: 531, textAlign: 'center', padding: 0,
    textStyle: { fontWeight: 'normal', fontFamily: SERIF, rich: {
      r: { fontFamily: SERIF, fontWeight: 'normal', fontSize: 26, color: '#000', lineHeight: 30, verticalAlign: 'middle' },
      i: { fontFamily: SERIF, fontWeight: 'normal', fontStyle: 'italic', fontSize: 26, color: '#000', lineHeight: 30, verticalAlign: 'middle' },
      si: { fontFamily: SERIF, fontWeight: 'normal', fontStyle: 'italic', fontSize: 18, color: '#000', lineHeight: 14, verticalAlign: 'bottom' },
      s0: { fontFamily: SERIF, fontWeight: 'normal', fontSize: 18, color: '#000', lineHeight: 14, verticalAlign: 'bottom' }
    } } },
  { text: 'Evolution of cable tensions [N]', left: 987, top: 534, textAlign: 'center', padding: 0, textStyle: titleStyle }
];

const chart = echarts.init(document.getElementById('chart'), null, { renderer: 'canvas', width: 1303, height: 1029 });
chart.setOption({
  animation: false,
  backgroundColor: '#ffffff',
  title: titles,
  legend: legends,
  grid: [
    { left: 67, top: 52, width: 499, height: 393, outerBoundsMode: 'none', containLabel: false },
    { left: 749, top: 52, width: 500, height: 393, outerBoundsMode: 'none', containLabel: false },
    { left: 67, top: 580, width: 499, height: 393, outerBoundsMode: 'none', containLabel: false },
    { left: 749, top: 581, width: 500, height: 392, outerBoundsMode: 'none', containLabel: false }
  ],
  xAxis: xAxes,
  yAxis: yAxes,
  series: series
});
</script>
</body>
</html>
